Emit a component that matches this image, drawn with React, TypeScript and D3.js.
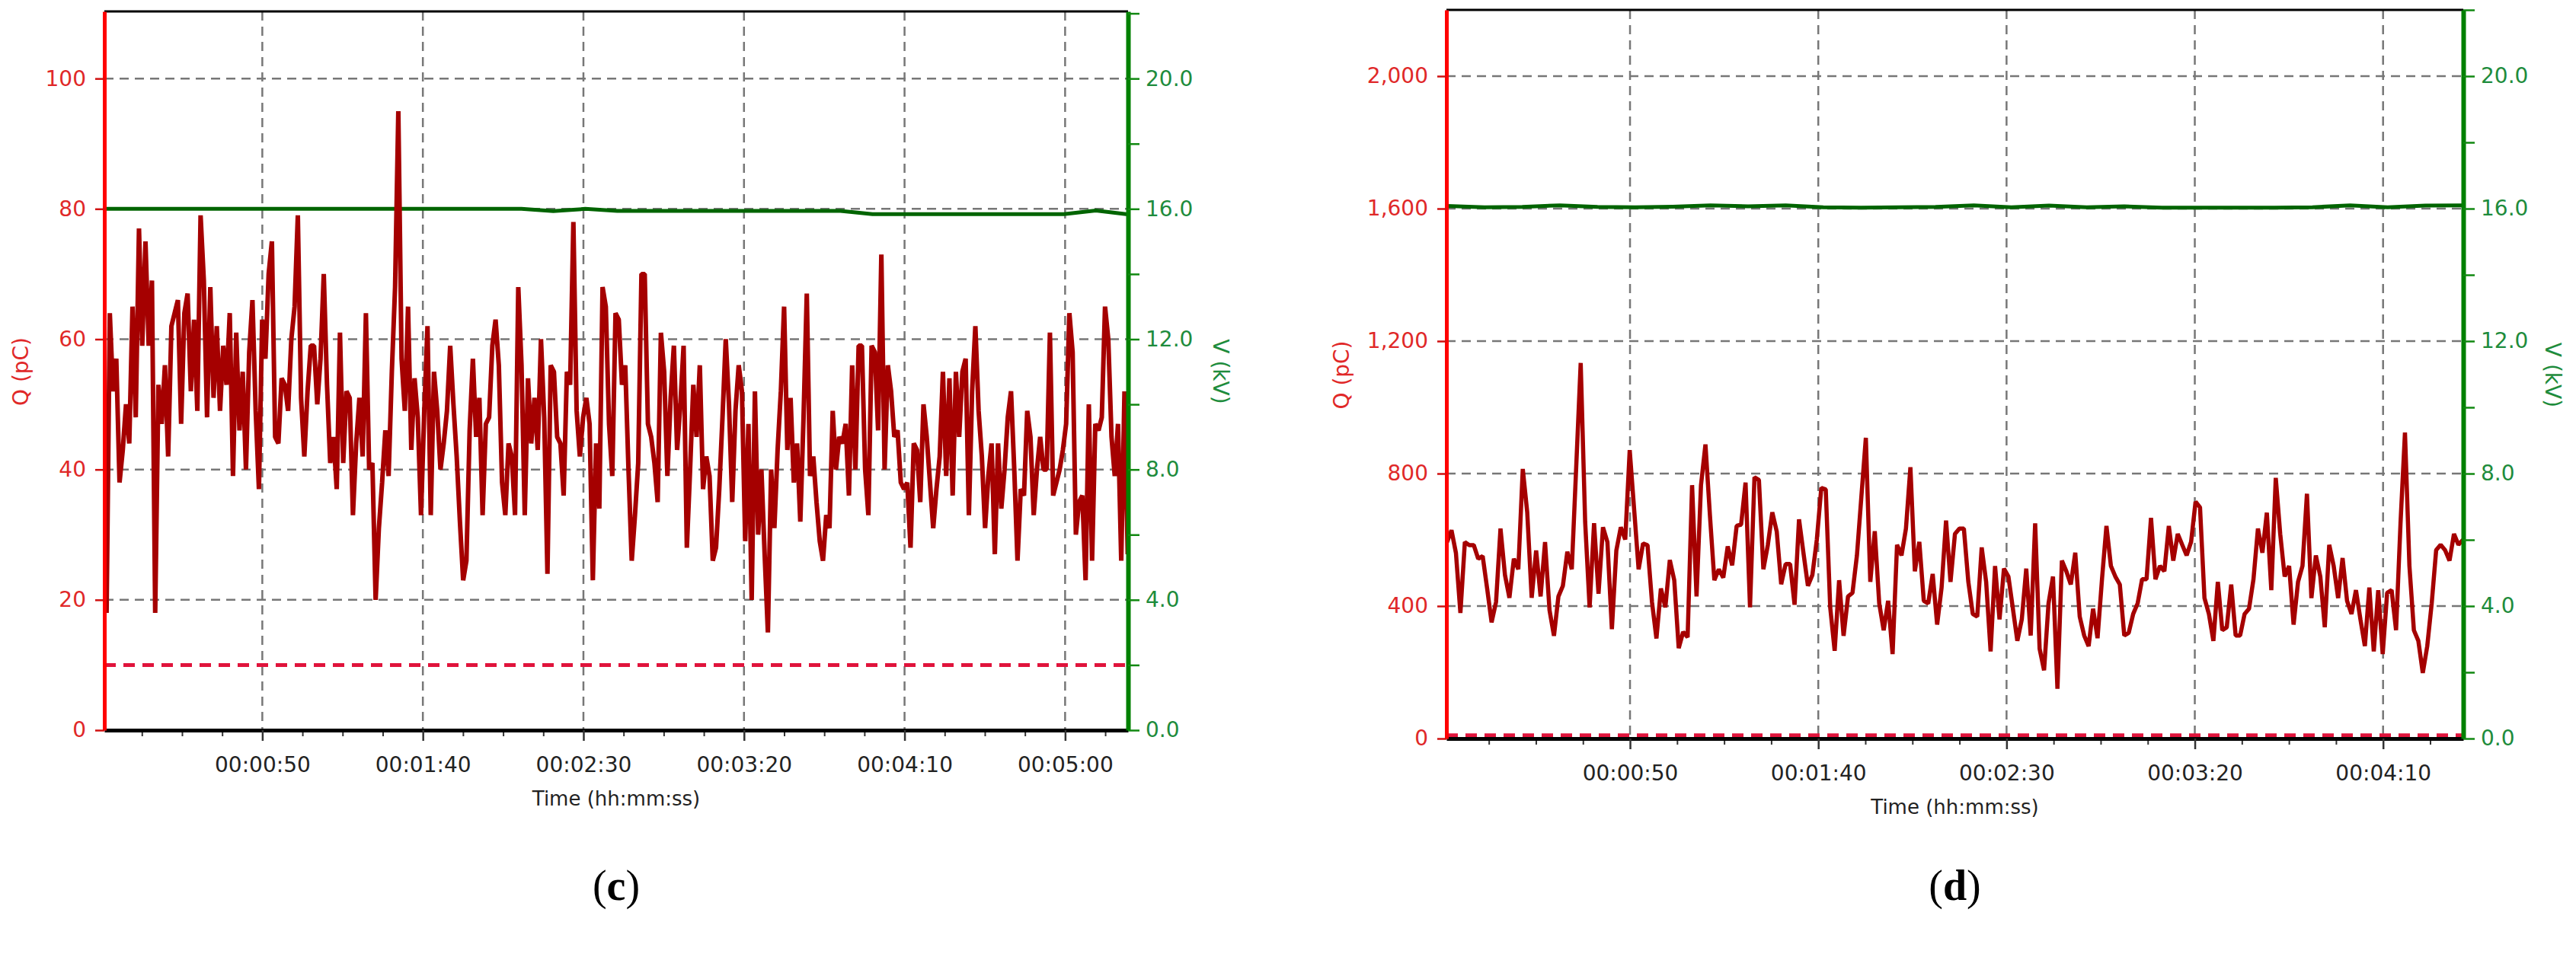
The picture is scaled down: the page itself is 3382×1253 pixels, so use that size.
import React, { useEffect, useRef } from "react";
import * as d3 from "d3";

// panel (c): apparent charge (pC), one sample per ~1 s
const qValuesC = [
  18, 64, 52, 57, 38, 43, 50, 44, 65, 48, 77, 59, 75, 59, 69, 18, 53, 47, 56, 42,
  62, 64, 66, 47, 64, 67, 52, 63, 49, 79, 69, 48, 68, 51, 62, 49, 59, 53, 64, 39,
  61, 46, 55, 40, 58, 66, 49, 37, 63, 57, 70, 75, 45, 44, 54, 53, 49, 60, 65, 79,
  51, 42, 52, 59, 59, 50, 57, 70, 53, 41, 45, 37, 61, 41, 52, 51, 33, 44, 51, 42,
  64, 40, 41, 20, 31, 38, 46,
  39, 55, 68, 95, 57, 49, 65, 43, 54, 48, 33, 49, 62, 33, 55, 49, 40, 44, 49, 59,
  50, 42, 32, 23, 26, 46, 57, 45, 51, 33, 47, 48, 59, 63, 56, 38, 33, 44, 42, 33,
  68, 56, 33, 54, 44, 51, 43, 60, 48, 24, 56, 55, 45, 44, 36, 55, 53, 78, 49, 42,
  48, 51, 47, 23, 44, 34, 68, 65, 47, 39, 64, 63, 53, 56, 40, 26, 33, 41, 70, 70,
  47, 45, 41, 35, 61, 55, 39, 51, 59, 43, 50, 59, 28, 40, 53, 45, 56, 37, 42, 39,
  26, 28, 37, 48, 60, 50, 35, 49, 56, 52, 29, 47, 20, 52, 30, 40, 27, 15, 40, 31,
  43, 52, 65, 43, 51, 38, 44, 32, 48, 67, 39, 42, 35, 29, 26, 33, 31, 49, 40, 45,
  44, 47, 36, 56, 40, 59, 59, 40, 33, 59, 58, 46, 73, 40, 56, 52, 45, 46, 38, 37,
  38, 28,
  44, 43, 35, 50, 45, 38, 31, 37, 42, 55, 39, 54, 36, 55, 45, 55, 57, 33, 52, 62,
  49, 42, 31, 39, 44, 27, 44, 34, 40, 48, 52, 40, 26, 37, 36, 49, 45, 33, 40, 45,
  40, 40, 61, 36, 38, 40, 43, 47, 64, 58, 30, 35, 36, 23, 50, 26, 47, 46, 48, 65,
  60, 45, 39, 47, 26, 52, 27,
];
// panel (c): applied voltage (kV), one sample per ~10 s
const vValuesC = [
  16.0, 16.0, 16.0, 16.0, 16.0, 16.0, 16.0, 16.0, 16.0, 16.0, 16.0, 16.0, 16.0, 16.0,
  15.93, 16.0, 15.94, 15.94, 15.94, 15.94, 15.94, 15.94, 15.94, 15.94,
  15.84, 15.84, 15.84, 15.84, 15.84, 15.84, 15.84, 15.95, 15.83,
];

// panel (d): apparent charge (pC)
const qValuesD = [
  593, 629, 560, 379, 593, 584, 584, 543, 551, 453, 351, 412, 634, 494, 425, 543, 511, 814, 683, 425,
  568, 429, 593, 388, 310, 429, 461, 564, 511, 822, 1134, 654, 396, 650, 437, 638, 593, 330, 568, 638,
  601, 871, 691, 511, 589, 584, 412, 302, 453, 396, 539, 478, 273, 322, 306, 765, 429, 765, 888, 675,
  478, 511, 486, 580, 523, 642, 646, 773, 396, 789, 781, 511, 584, 683, 625, 466, 527, 527, 404, 662,
  560, 461, 494, 601, 757, 752, 396, 265, 478, 310, 429, 440,
  553, 731, 908, 473, 626, 408, 327, 416, 255, 585, 553, 634, 819, 505, 594, 416, 408, 497, 344, 456,
  658, 473, 618, 634,
  634, 473, 376, 368, 577, 473, 263, 521, 360, 513, 489, 392, 295, 360, 513, 311, 650, 271, 206, 408,
  489, 150, 537, 505, 465, 561, 368, 311, 279, 392, 303, 481, 642, 521, 489, 465, 311, 319, 376, 408,
  481, 481, 666, 481, 521, 505, 642, 537, 618, 585, 553, 594, 715, 698, 424, 376, 295, 473, 327, 336,
  465, 311, 311, 376, 392, 481, 634, 561, 682, 448, 787, 618, 489, 521, 344, 473, 521, 739, 424, 553,
  489, 336, 585, 521, 424, 545, 416, 376, 448, 360, 279, 456, 263, 448, 255, 440, 448, 327, 650, 924,
  521, 327, 295, 198, 279, 408, 569, 585, 569, 537, 618, 585, 600,
];
// panel (d): applied voltage (kV)
const vValuesD = [
  16.08, 16.04, 16.05, 16.1, 16.05, 16.04, 16.06, 16.1, 16.07, 16.1, 16.04, 16.03, 16.04, 16.05,
  16.1, 16.04, 16.09, 16.04, 16.07, 16.03, 16.03, 16.03, 16.03, 16.04, 16.1, 16.04, 16.09, 16.1,
];

const qTicksC = [0, 20, 40, 60, 80, 100];
const qTicksD = [0, 400, 800, 1200, 1600, 2000];
const vTicks = [0, 2, 4, 6, 8, 10, 12, 14, 16, 18, 20, 22];
const xTicksC = [50, 100, 150, 200, 250, 300];
const xTicksD = [50, 100, 150, 200, 250];
const thresholdQ = 10;

const panels = [
  {
    tag: "c", left: 137, right: 1481, top: 15, bottom: 959,
    tDomain: [0.81, 319.6], qMax: 110.3, vMax: 22.06,
    qTicks: qTicksC, xTicks: xTicksC, qFmt: d3.format("d"),
    q: qValuesC, qSpan: [1.5, 319.5], v: vValuesC, vSpan: [1.5, 319.5],
    qWidth: 6, qLabelX: 27, vLabelX: 1603,
  },
  {
    tag: "d", left: 1899, right: 3234, top: 13, bottom: 970,
    tDomain: [1.24, 271.3], qMax: 2200, vMax: 22,
    qTicks: qTicksD, xTicks: xTicksD, qFmt: d3.format(","),
    q: qValuesD, qSpan: [1.4, 271.2], v: vValuesD, vSpan: [1.4, 271.2],
    qWidth: 5.5, qLabelX: 1761, vLabelX: 3352,
  },
];

const FONT = "'DejaVu Sans', Verdana, sans-serif";
const RED_TEXT = "#e02828";
const GREEN_TEXT = "#1e8c3c";

function hms(s) {
  const h = Math.floor(s / 3600), m = Math.floor((s % 3600) / 60), sec = Math.round(s % 60);
  const p = n => String(n).padStart(2, "0");
  return `${p(h)}:${p(m)}:${p(sec)}`;
}

function spread(values, span) {
  const n = values.length;
  return values.map((v, i) => [span[0] + (i * (span[1] - span[0])) / (n - 1), v]);
}

function Panel({ cfg }) {
  const ref = useRef(null);

  useEffect(() => {
    const g = d3.select(ref.current);
    g.selectAll("*").remove();

    const x = d3.scaleLinear().domain(cfg.tDomain).range([cfg.left, cfg.right]);
    const yQ = d3.scaleLinear().domain([0, cfg.qMax]).range([cfg.bottom, cfg.top]);
    const yV = d3.scaleLinear().domain([0, cfg.vMax]).range([cfg.bottom, cfg.top]);

    // grid
    const grid = g.append("g")
      .attr("stroke", "#777")
      .attr("stroke-width", 2.5)
      .attr("stroke-dasharray", "12,8");
    grid.selectAll("line.h")
      .data(cfg.qTicks.filter(d => d > 0))
      .join("line")
        .attr("x1", cfg.left).attr("x2", cfg.right)
        .attr("y1", d => yQ(d)).attr("y2", d => yQ(d));
    grid.selectAll("line.v")
      .data(cfg.xTicks)
      .join("line")
        .attr("x1", d => x(d)).attr("x2", d => x(d))
        .attr("y1", cfg.top).attr("y2", cfg.bottom);

    // threshold
    g.append("line")
      .attr("x1", cfg.left).attr("x2", cfg.right)
      .attr("y1", yQ(thresholdQ)).attr("y2", yQ(thresholdQ))
      .attr("stroke", "#e0143c")
      .attr("stroke-width", 5)
      .attr("stroke-dasharray", "15,10");

    // voltage
    g.append("path")
      .datum(spread(cfg.v, cfg.vSpan))
      .attr("fill", "none")
      .attr("stroke", "#006400")
      .attr("stroke-width", 5)
      .attr("d", d3.line().x(d => x(d[0])).y(d => yV(d[1])));

    // charge
    g.append("path")
      .datum(spread(cfg.q, cfg.qSpan))
      .attr("fill", "none")
      .attr("stroke", "#a50000")
      .attr("stroke-width", cfg.qWidth)
      .attr("stroke-linejoin", "bevel")
      .attr("d", d3.line().x(d => x(d[0])).y(d => yQ(d[1])));

    // top frame
    g.append("line")
      .attr("x1", cfg.left).attr("x2", cfg.right)
      .attr("y1", cfg.top).attr("y2", cfg.top)
      .attr("stroke", "#000").attr("stroke-width", 3);

    // bottom axis, minor then major
    const minor = d3.range(12.5, cfg.tDomain[1], 12.5).filter(d => d % 50 !== 0);
    g.append("g")
      .attr("transform", `translate(0,${cfg.bottom})`)
      .call(d3.axisBottom(x).tickValues(minor).tickSize(8).tickSizeOuter(0).tickFormat(() => ""))
      .call(a => a.select(".domain").remove())
      .call(a => a.selectAll("line").attr("stroke", "#333").attr("stroke-width", 2));
    g.append("g")
      .attr("transform", `translate(0,${cfg.bottom})`)
      .call(d3.axisBottom(x).tickValues(cfg.xTicks).tickSize(14).tickSizeOuter(0).tickPadding(21).tickFormat(hms))
      .call(a => a.select(".domain").attr("stroke", "#000").attr("stroke-width", 5))
      .call(a => a.selectAll("line").attr("stroke", "#333").attr("stroke-width", 2.5))
      .call(a => a.selectAll("text")
        .attr("font-family", FONT).attr("font-size", 28).attr("fill", "#222"));

    // left axis
    g.append("g")
      .attr("transform", `translate(${cfg.left},0)`)
      .call(d3.axisLeft(yQ).tickValues(cfg.qTicks).tickSize(12).tickSizeOuter(0).tickPadding(12).tickFormat(cfg.qFmt))
      .call(a => a.select(".domain").attr("stroke", "#ff0000").attr("stroke-width", 5))
      .call(a => a.selectAll("line").attr("stroke", "#d01010").attr("stroke-width", 2.5))
      .call(a => a.selectAll("text")
        .attr("font-family", FONT).attr("font-size", 28).attr("fill", RED_TEXT));

    // right axis
    g.append("g")
      .attr("transform", `translate(${cfg.right},0)`)
      .call(d3.axisRight(yV).tickValues(vTicks).tickSize(15).tickSizeOuter(0).tickPadding(8)
        .tickFormat(d => (d % 4 === 0 && d <= 20 ? d3.format(".1f")(d) : "")))
      .call(a => a.select(".domain").attr("stroke", "#008000").attr("stroke-width", 6))
      .call(a => a.selectAll("line").attr("stroke", "#118811").attr("stroke-width", 2.5))
      .call(a => a.selectAll("text")
        .attr("font-family", FONT).attr("font-size", 28).attr("fill", GREEN_TEXT));

    // axis titles
    const midY = (cfg.top + cfg.bottom) / 2 + 1;
    g.append("text")
      .attr("transform", `translate(${cfg.qLabelX},${midY}) rotate(-90)`)
      .attr("text-anchor", "middle").attr("dy", "0.35em")
      .attr("font-family", FONT).attr("font-size", 28).attr("fill", RED_TEXT)
      .text("Q (pC)");
    g.append("text")
      .attr("transform", `translate(${cfg.vLabelX},${midY}) rotate(90)`)
      .attr("text-anchor", "middle").attr("dy", "0.35em")
      .attr("font-family", FONT).attr("font-size", 28).attr("fill", GREEN_TEXT)
      .text("V (kV)");
    g.append("text")
      .attr("x", (cfg.left + cfg.right) / 2).attr("y", cfg.bottom + 99)
      .attr("text-anchor", "middle")
      .attr("font-family", FONT).attr("font-size", 26).attr("fill", "#222")
      .text("Time (hh:mm:ss)");

    // panel letter
    const tag = g.append("text")
      .attr("x", (cfg.left + cfg.right) / 2).attr("y", 1182)
      .attr("text-anchor", "middle")
      .attr("font-family", "'Liberation Serif', 'Times New Roman', serif")
      .attr("font-size", 56).attr("fill", "#000");
    tag.append("tspan").text("(");
    tag.append("tspan").attr("font-weight", "bold").text(cfg.tag);
    tag.append("tspan").text(")");
  }, [cfg]);

  return <g ref={ref} />;
}

export default function App() {
  return (
    <svg
      width={3382}
      height={1253}
      style={{ position: "absolute", left: 0, top: 0, background: "#fff" }}
    >
      <rect width={3382} height={1253} fill="#fff" />
      {panels.map(p => <Panel key={p.tag} cfg={p} />)}
    </svg>
  );
}
